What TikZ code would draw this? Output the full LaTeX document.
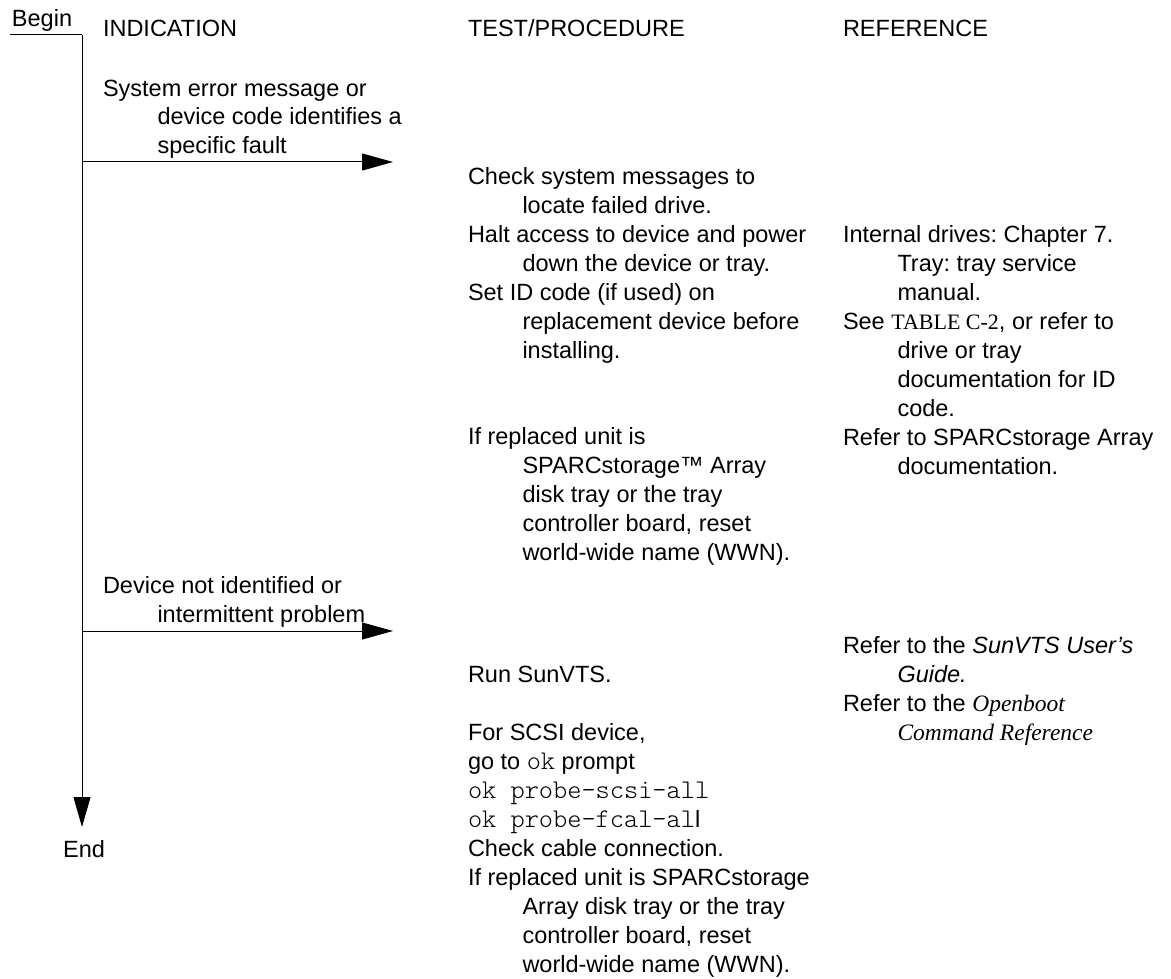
\documentclass[tikz,border=0pt]{standalone}
\usepackage{fontspec}
\setmainfont{Liberation Sans}
\setmonofont{Latin Modern Mono Light}[Scale=1.15]
\newfontfamily\timesfont{Liberation Serif}
\usetikzlibrary{arrows.meta}
\newcommand\fl{\rule{0pt}{20pt}}
\newcommand\ind{\hspace*{54.5pt}}
\frenchspacing
\begin{document}
\begin{tikzpicture}[x=1pt,y=-1pt,
  txt/.style={inner sep=0pt, outer sep=0pt, anchor=base west, font=\fontsize{23.5}{29}\selectfont},
  entry/.style={inner sep=0pt, outer sep=0pt, anchor=north west, align=left, font=\fontsize{23.5}{29}\selectfont},
  flow/.style={line width=1pt, black},
  head/.style={-{Triangle[length=30pt,width=17pt]}}]
\useasboundingbox (0,0) rectangle (1171,979);

% headers
\node[txt] (begin) at (12,27) {Begin};
\node[txt] (hind) at (103,37) {INDICATION};
\node[txt] (htest) at (468,37) {TEST/PROCEDURE};
\node[txt] (href) at (843,37) {REFERENCE};

% indications
\node[entry] (i1) at (103,96-20) {\fl System error message or\\ \ind device code identifies a\\ \ind specific fault};
\node[entry] (i2) at (103,593-20) {\fl Device not identified or\\ \ind intermittent problem};

% test / procedure
\node[entry] (p1) at (468,184-20) {\fl Check system messages to\\ \ind locate failed drive.\\
  Halt access to device and power\\ \ind down the device or tray.\\
  Set ID code (if used) on\\ \ind replacement device before\\ \ind installing.};
\node[entry] (p2) at (468,444-20) {\fl If replaced unit is\\ \ind SPARCstorage™ Array\\ \ind disk tray or the tray\\ \ind controller board, reset\\ \ind world-wide name (WWN).};
\node[entry] (p3) at (468,682-20) {\fl Run SunVTS.};
\node[entry] (p4) at (468,740-20) {\fl For SCSI device,\\ go to \texttt{ok} prompt\\ \texttt{ok probe-scsi-all}\\ \texttt{ok probe-fcal-al}l\\
  Check cable connection.\\ If replaced unit is SPARCstorage\\ \ind Array disk tray or the tray\\ \ind controller board, reset\\ \ind world-wide name (WWN).};

% reference
\node[entry] (r1) at (843,242-20) {\fl Internal drives: Chapter 7.\\ \ind Tray: tray service\\ \ind manual.\\
  See {\timesfont\fontsize{22}{29}\selectfont TABLE C-2}, or refer to\\ \ind drive or tray\\ \ind documentation for ID\\ \ind code.\\
  Refer to SPARCstorage Array\\ \ind documentation.};
\node[entry] (r2) at (843,653-20) {\fl Refer to the \textit{SunVTS User’s}\\ \ind \textit{Guide.}\\
  Refer to the {\timesfont\itshape Openboot}\\ \ind {\timesfont\itshape Command Reference}};

\node[txt, anchor=base] (end) at (84,857) {End};

% connectors
\coordinate (t0) at (10,35);
\coordinate (t1) at (82,35);
\coordinate (tend) at (82,827);
\coordinate (a1s) at (82,162);
\coordinate (a1e) at (393,162);
\coordinate (a2s) at (82,631);
\coordinate (a2e) at (393,631);
\draw[flow] (t0) -- (t1);
\draw[flow, head] (t1) -- (tend);
\draw[flow, -{Triangle[length=31pt,width=17pt]}] (a1s) -- (a1e);
\draw[flow, -{Triangle[length=31pt,width=17pt]}] (a2s) -- (a2e);
\end{tikzpicture}
\end{document}
